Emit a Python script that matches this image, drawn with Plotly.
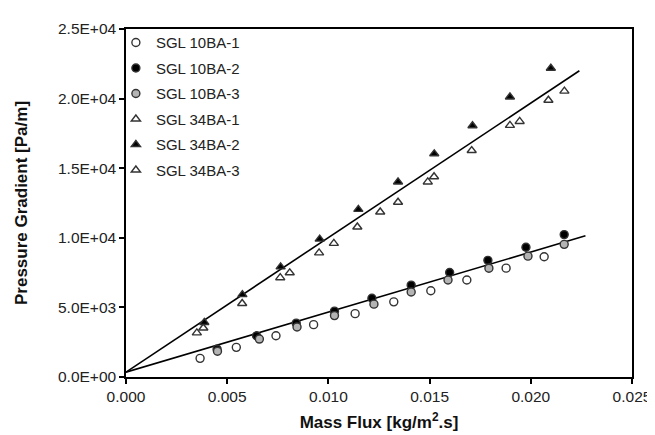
import plotly.graph_objects as go

# ---- data ----
x_10ba1 = [0.00366, 0.00545, 0.00741, 0.00927, 0.01132, 0.01323, 0.01506, 0.01684, 0.01878, 0.02066]
y_10ba1 = [1340, 2130, 2960, 3760, 4550, 5400, 6200, 6970, 7820, 8640]

x_10ba2 = [0.00450, 0.00645, 0.00841, 0.01030, 0.01215, 0.01409, 0.01599, 0.01788, 0.01976, 0.02165]
y_10ba2 = [2000, 2960, 3870, 4730, 5660, 6600, 7510, 8380, 9320, 10230]

x_10ba3 = [0.00452, 0.00659, 0.00845, 0.01030, 0.01225, 0.01409, 0.01591, 0.01793, 0.01986, 0.02165]
y_10ba3 = [1850, 2725, 3590, 4410, 5235, 6105, 6970, 7817, 8683, 9528]

x_34ba1 = [0.00382, 0.00574, 0.00762, 0.00954, 0.01143, 0.01344, 0.01522, 0.01708, 0.01897, 0.02087]
y_34ba1 = [3520, 5280, 7134, 8920, 10775, 12556, 14387, 16268, 18077, 19880]

x_34ba2 = [0.00387, 0.00575, 0.00764, 0.00957, 0.01148, 0.01344, 0.01523, 0.01712, 0.01897, 0.02099]
y_34ba2 = [3920, 5915, 7908, 9908, 12042, 14014, 16035, 18050, 20120, 22183]

x_34ba3 = [0.00350, 0.00809, 0.01027, 0.01256, 0.01491, 0.01945, 0.02166]
y_34ba3 = [3170, 7486, 9600, 11852, 14014, 18360, 20540]

fit_low_x = [0.0, 0.0227]
fit_low_y = [350, 10140]
fit_high_x = [0.0, 0.0224]
fit_high_y = [350, 22000]

x_ticks = [0.000, 0.005, 0.010, 0.015, 0.020, 0.025]
x_ticklabels = ["0.000", "0.005", "0.010", "0.015", "0.020", "0.025"]
y_ticks = [0, 5000, 10000, 15000, 20000, 25000]
y_ticklabels = ["0.0E+00", "5.0E+03", "1.0E+04", "1.5E+04", "2.0E+04", "2.5E+04"]

FONT = "Liberation Sans, Arial, sans-serif"

# ---- figure ----
fig = go.Figure()

fig.add_trace(go.Scatter(x=fit_low_x, y=fit_low_y, mode="lines",
                         line=dict(color="black", width=1.6), showlegend=False, hoverinfo="skip"))
fig.add_trace(go.Scatter(x=fit_high_x, y=fit_high_y, mode="lines",
                         line=dict(color="black", width=1.6), showlegend=False, hoverinfo="skip"))

series = [
    ("SGL 10BA-1", x_10ba1, y_10ba1, "circle", "white", 8),
    ("SGL 10BA-2", x_10ba2, y_10ba2, "circle", "black", 8),
    ("SGL 10BA-3", x_10ba3, y_10ba3, "circle", "#b4b4b4", 8),
    ("SGL 34BA-1", x_34ba1, y_34ba1, "triangle-up", "white", 8),
    ("SGL 34BA-2", x_34ba2, y_34ba2, "triangle-up", "black", 8),
    ("SGL 34BA-3", x_34ba3, y_34ba3, "triangle-up", "white", 8),
]
for i, (name, xs, ys, sym, fill, sz) in enumerate(series):
    fig.add_trace(go.Scatter(
        x=xs, y=ys, mode="markers", name=name, legendgroup=f"g{i}",
        marker=dict(symbol=sym, size=sz, color=fill,
                    line=dict(color="#333333", width=1.4)),
    ))

axis_common = dict(
    showline=True, linecolor="black", linewidth=1.5, mirror=True,
    ticks="outside", ticklen=5, tickwidth=1.5, tickcolor="black",
    showgrid=False, zeroline=False,
    tickfont=dict(family=FONT, size=15.5, color="#222222"),
)

fig.update_xaxes(range=[0, 0.025], tickvals=x_ticks, ticktext=x_ticklabels,
                 title=dict(text="<b>Mass Flux [kg/m<sup>2</sup>.s]</b>",
                            font=dict(family=FONT, size=17, color="#111111"),
                            standoff=12),
                 **axis_common)
fig.update_yaxes(range=[0, 25000], tickvals=y_ticks, ticktext=y_ticklabels,
                 title=dict(text="<b>Pressure Gradient [Pa/m]</b>",
                            font=dict(family=FONT, size=17, color="#111111"),
                            standoff=26),
                 **axis_common)

fig.update_layout(
    width=655, height=435,
    margin=dict(l=116, r=22, t=14, b=66),
    plot_bgcolor="white", paper_bgcolor="white",
    font=dict(family=FONT, color="#222222"),
    legend=dict(x=-0.02, y=1.008, xanchor="left", yanchor="top",
                font=dict(size=15, color="#222222"),
                bgcolor="rgba(0,0,0,0)", tracegroupgap=3, itemwidth=30),
)

fig.write_html("out.html")
